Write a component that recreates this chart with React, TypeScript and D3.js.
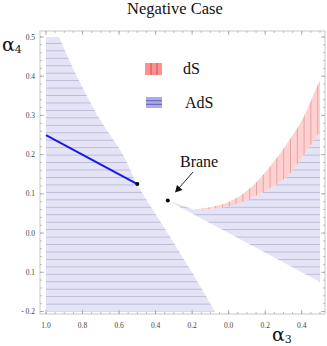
import React from "react";
import * as d3 from "d3";

// axis ticks, as printed on the figure
const xTicks = [-1, -0.8, -0.6, -0.4, -0.2, 0, 0.2, 0.4];
const xTickLabels = ["1.0", "0.8", "0.6", "0.4", "0.2", "0.0", "0.2", "0.4"];
const yTicks = [0.5, 0.4, 0.3, 0.2, 0.1, 0, -0.1, -0.2];
const yTickLabels = ["0.5", "0.4", "0.3", "0.2", "0.1", "0.0", "0.1", "- 0.2"];

// left AdS boundary (alpha3, alpha4), top to bottom
const leftAdsEdge: [number, number][] = [
  [-0.929, 0.5], [-0.83, 0.399], [-0.721, 0.302], [-0.578, 0.199],
  [-0.502, 0.125], [-0.338, 0.003], [-0.201, -0.1], [-0.075, -0.2],
];
// dS band, upper and lower curves (left to right)
const dsUpper: [number, number][] = [
  [-0.184, 0.06], [-0.011, 0.077], [0.099, 0.107], [0.208, 0.159],
  [0.318, 0.227], [0.409, 0.295], [0.482, 0.372], [0.5, 0.389],
];
const dsLower: [number, number][] = [
  [-0.184, 0.059], [0.007, 0.069], [0.188, 0.105], [0.318, 0.143],
  [0.407, 0.197], [0.484, 0.248], [0.5, 0.261],
];
// thin AdS tip from the brane to the start of the dS band
const braneTip: [number, number][] = [[-1 / 3, 1 / 12], [-0.184, 0.059]];
const brane: [number, number] = [-1 / 3, 1 / 12];
// blue line alpha4 = -alpha3/4
const blueLine: [number, number][] = [[-1, 0.25], [-0.5, 0.125]];
const lowerLineEnd: [number, number] = [0.5, -0.125];

const W = 327, H = 346;

export default function App() {
  const x = d3.scaleLinear().domain([-1, 0.5]).range([46, 320]);
  const y = d3.scaleLinear().domain([-0.2, 0.5]).range([311.5, 37]);
  const frame = { l: 40, r: 325, t: 31, b: 314 };

  const smooth = d3.line<[number, number]>().x(d => x(d[0])).y(d => y(d[1])).curve(d3.curveCatmullRom);
  const straight = d3.line<[number, number]>().x(d => x(d[0])).y(d => y(d[1]));
  const P = (p: [number, number]) => `${x(p[0])},${y(p[1])}`;

  const leftAds = "M" + P([-1, 0.5]) + "L" + smooth(leftAdsEdge)!.slice(1) + "L" + P([-1, -0.2]) + "Z";
  const rightAds =
    straight(braneTip) + "L" + smooth(dsLower)!.slice(1) + "L" + P(lowerLineEnd) + "L" + P(brane) + "Z";
  const dS = smooth(dsUpper) + "L" + smooth([...dsLower].reverse())!.slice(1) + "Z";

  const xMinor = d3.range(-1.0, 0.53, 0.05);
  const yMinor = d3.range(-0.2, 0.52, 0.02);

  const tickColor = "#9a9a9a";
  const lab = { fontFamily: "Liberation Serif, serif", fontSize: 7.5, fill: "#444" };

  return (
    <svg width={W} height={H} style={{ position: "absolute", left: 0, top: 0, background: "#fff" }}>
      <defs>
        <pattern id="hstripe" patternUnits="userSpaceOnUse" width={10} height={7.45} y={43.3 - 0.4}>
          <rect width={10} height={0.8} fill="#b4b4d2" />
        </pattern>
        <pattern id="vstripe" patternUnits="userSpaceOnUse" width={6.8} height={10} x={270 - 0.4}>
          <rect width={0.8} height={10} fill="#d89a9a" />
        </pattern>
      </defs>

      <text x={175} y={14} textAnchor="middle" fontFamily="Liberation Serif, serif" fontSize={16.5} fill="#111">
        Negative Case
      </text>

      {/* regions */}
      <path d={leftAds} fill="#e4e4f6" />
      <path d={leftAds} fill="url(#hstripe)" />
      <path d={rightAds} fill="#e4e4f6" />
      <path d={rightAds} fill="url(#hstripe)" />
      <path d={dS} fill="#ffd0d0" />
      <path d={dS} fill="url(#vstripe)" />

      {/* blue line and points */}
      <path d={straight(blueLine)!} stroke="#1a1ae6" strokeWidth={2} fill="none" />
      <circle cx={x(blueLine[1][0])} cy={y(blueLine[1][1])} r={2} fill="#000" />
      <circle cx={x(brane[0])} cy={y(brane[1])} r={2} fill="#000" />

      {/* frame */}
      <rect x={frame.l} y={frame.t} width={frame.r - frame.l} height={frame.b - frame.t}
        fill="none" stroke="#c8c8c8" strokeWidth={1} />
      {xMinor.map((v, i) => (
        <g key={"xm" + i}>
          <line x1={x(v)} x2={x(v)} y1={frame.b} y2={frame.b - 2} stroke={tickColor} strokeWidth={0.6} />
          <line x1={x(v)} x2={x(v)} y1={frame.t} y2={frame.t + 2} stroke={tickColor} strokeWidth={0.6} />
        </g>
      ))}
      {yMinor.map((v, i) => (
        <g key={"ym" + i}>
          <line x1={frame.l} x2={frame.l + 2} y1={y(v)} y2={y(v)} stroke={tickColor} strokeWidth={0.6} />
          <line x1={frame.r} x2={frame.r - 2} y1={y(v)} y2={y(v)} stroke={tickColor} strokeWidth={0.6} />
        </g>
      ))}
      {xTicks.map((v, i) => (
        <g key={"xt" + i}>
          <line x1={x(v)} x2={x(v)} y1={frame.b} y2={frame.b - 4} stroke={tickColor} strokeWidth={0.7} />
          <line x1={x(v)} x2={x(v)} y1={frame.t} y2={frame.t + 4} stroke={tickColor} strokeWidth={0.7} />
          <text x={x(v)} y={328} textAnchor="middle" {...lab}>{xTickLabels[i]}</text>
        </g>
      ))}
      {yTicks.map((v, i) => (
        <g key={"yt" + i}>
          <line x1={frame.l} x2={frame.l + 4} y1={y(v)} y2={y(v)} stroke={tickColor} strokeWidth={0.7} />
          <line x1={frame.r} x2={frame.r - 4} y1={y(v)} y2={y(v)} stroke={tickColor} strokeWidth={0.7} />
          <text x={35} y={y(v) + 2.6} textAnchor="end" {...lab}>{yTickLabels[i]}</text>
        </g>
      ))}

      {/* axis labels */}
      <text x={2} y={51} fontFamily="DejaVu Serif, serif" fontSize={19} fill="#111">
        α<tspan fontSize={11} dy={2}>4</tspan>
      </text>
      <text x={272} y={341} fontFamily="DejaVu Serif, serif" fontSize={19} fill="#111">
        α<tspan fontSize={11} dy={2}>3</tspan>
      </text>

      {/* legend */}
      <rect x={145} y={63} width={17} height={12} fill="#ff9090" />
      <line x1={151} x2={151} y1={63} y2={75} stroke="#b04848" strokeWidth={0.8} />
      <line x1={157} x2={157} y1={63} y2={75} stroke="#b04848" strokeWidth={0.8} />
      <text x={183} y={74} fontFamily="Liberation Serif, serif" fontSize={16} fill="#111">dS</text>
      <rect x={146} y={97} width={16} height={11} fill="#aaaaf2" />
      <line x1={146} x2={162} y1={100.7} y2={100.7} stroke="#505098" strokeWidth={0.8} />
      <line x1={146} x2={162} y1={104.3} y2={104.3} stroke="#505098" strokeWidth={0.8} />
      <text x={185} y={108} fontFamily="Liberation Serif, serif" fontSize={16} fill="#111">AdS</text>

      {/* brane annotation */}
      <text x={180} y={167} fontFamily="Liberation Serif, serif" fontSize={16} fill="#111">Brane</text>
      <line x1={193} x2={179} y1={172} y2={188} stroke="#111" strokeWidth={0.9} />
      <path d="M175,192.5 L177,185 L182.5,190 Z" fill="#111" />
    </svg>
  );
}
